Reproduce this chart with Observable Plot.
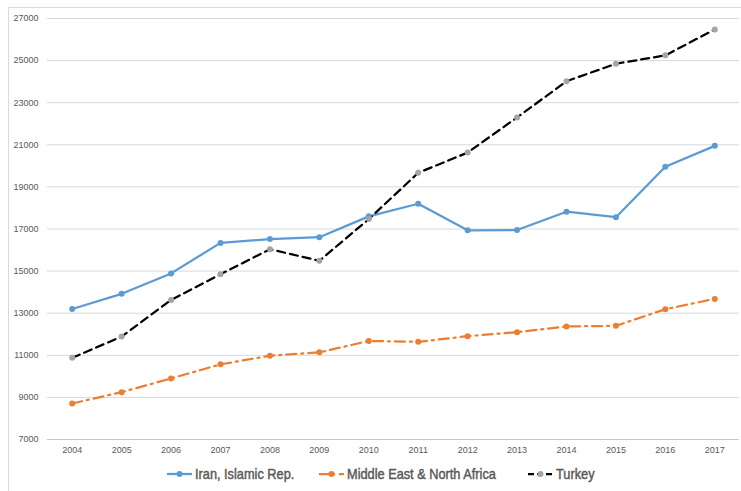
<!DOCTYPE html>
<html>
<head>
<meta charset="utf-8">
<script src="https://cdn.jsdelivr.net/npm/d3@7"></script>
<script src="https://cdn.jsdelivr.net/npm/@observablehq/plot@0.6"></script>
<style>
  html, body { margin: 0; padding: 0; background: #fff; }
  body { width: 741px; height: 491px; position: relative; overflow: hidden; font-family: "Liberation Sans", Arial, sans-serif; }
  #frame { position: absolute; left: 8px; top: 7px; width: 740px; height: 490px; border: 1px solid #d9d9d9; box-sizing: border-box; }
  #chart { position: absolute; left: 0; top: 0; }
  #legend { position: absolute; left: 0; top: 464px; width: 741px; height: 20px; }
  .item { position: absolute; top: 0; height: 20px; display: flex; align-items: center; color: #595959; font-family: "Liberation Sans", Arial, sans-serif; font-weight: normal; font-size: 14.5px; -webkit-text-stroke: 0.45px #595959; white-space: nowrap; }
  .item svg { margin-right: 2px; }
  .item span { display: inline-block; transform: scaleX(0.88); transform-origin: left center; }
</style>
</head>
<body>
<div id="frame"></div>
<div id="chart"></div>
<div id="legend"></div>
<script>
const years = [2004, 2005, 2006, 2007, 2008, 2009, 2010, 2011, 2012, 2013, 2014, 2015, 2016, 2017];
const iran = [13200, 13920, 14890, 16340, 16520, 16610, 17600, 18200, 16940, 16950, 17820, 17560, 19960, 20950];
const mena = [8710, 9250, 9900, 10570, 10980, 11140, 11680, 11640, 11910, 12100, 12370, 12400, 13190, 13680];
const turkey = [10880, 11890, 13630, 14850, 16040, 15490, 17470, 19670, 20630, 22300, 24020, 24850, 25250, 26480];
const yTicks = [7000, 9000, 11000, 13000, 15000, 17000, 19000, 21000, 23000, 25000, 27000];
const seriesNames = ["Iran, Islamic Rep.", "Middle East & North Africa", "Turkey"];

const series = [
  {name: seriesNames[0], values: iran, stroke: "#5b9bd5", dash: null, marker: "#5b9bd5"},
  {name: seriesNames[1], values: mena, stroke: "#ed7d31", dash: "10,5,2,5", marker: "#ed7d31"},
  {name: seriesNames[2], values: turkey, stroke: "#000000", dash: "8,5", marker: "#a5a5a5"}
];

const marks = [
  Plot.ruleY(yTicks.filter(d => d !== 7000), {stroke: "#d9d9d9", strokeWidth: 1}),
  Plot.ruleY([7000], {stroke: "#c8c8c8", strokeWidth: 1}),
  Plot.axisY({ticks: yTicks, tickSize: 0, tickPadding: 9, fontSize: 9, color: "#595959", label: null, tickFormat: d => String(d)}),
  Plot.axisX({tickSize: 0, tickPadding: 7, fontSize: 9, color: "#595959", label: null, tickFormat: d => String(d)})
];
for (const s of series) {
  const data = years.map((y, i) => ({year: y, value: s.values[i]}));
  marks.push(Plot.line(data, {x: "year", y: "value", stroke: s.stroke, strokeWidth: 2.25, strokeDasharray: s.dash || undefined, curve: "linear"}));
}
for (const s of series) {
  const data = years.map((y, i) => ({year: y, value: s.values[i]}));
  marks.push(Plot.dot(data, {x: "year", y: "value", fill: s.marker, r: 3, stroke: "none"}));
}

const chart = Plot.plot({
  width: 741,
  height: 462,
  marginLeft: 47,
  marginRight: 2,
  marginTop: 18,
  marginBottom: 23,
  style: {background: "transparent", fontFamily: "Liberation Sans, Arial, sans-serif", color: "#595959"},
  x: {type: "point", domain: years, padding: 0.5, round: false},
  y: {domain: [7000, 27000]},
  marks
});
document.getElementById("chart").appendChild(chart);

// legend
const legendLeft = [166, 318, 527];
const legend = document.getElementById("legend");
series.forEach((s, i) => {
  const div = document.createElement("div");
  div.className = "item";
  div.style.left = legendLeft[i] + "px";
  const sw = d3.create("svg").attr("width", 27).attr("height", 20);
  sw.append("line").attr("x1", 1).attr("x2", 26).attr("y1", 10).attr("y2", 10)
    .attr("stroke", s.stroke).attr("stroke-width", 2.25)
    .attr("stroke-dasharray", s.dash ? (i === 1 ? "10,4,2,4" : "6,3") : null);
  sw.append("circle").attr("cx", 13.5).attr("cy", 10).attr("r", 3).attr("fill", s.marker);
  div.appendChild(sw.node());
  const t = document.createElement("span");
  t.textContent = s.name;
  div.appendChild(t);
  legend.appendChild(div);
});
</script>
</body>
</html>
